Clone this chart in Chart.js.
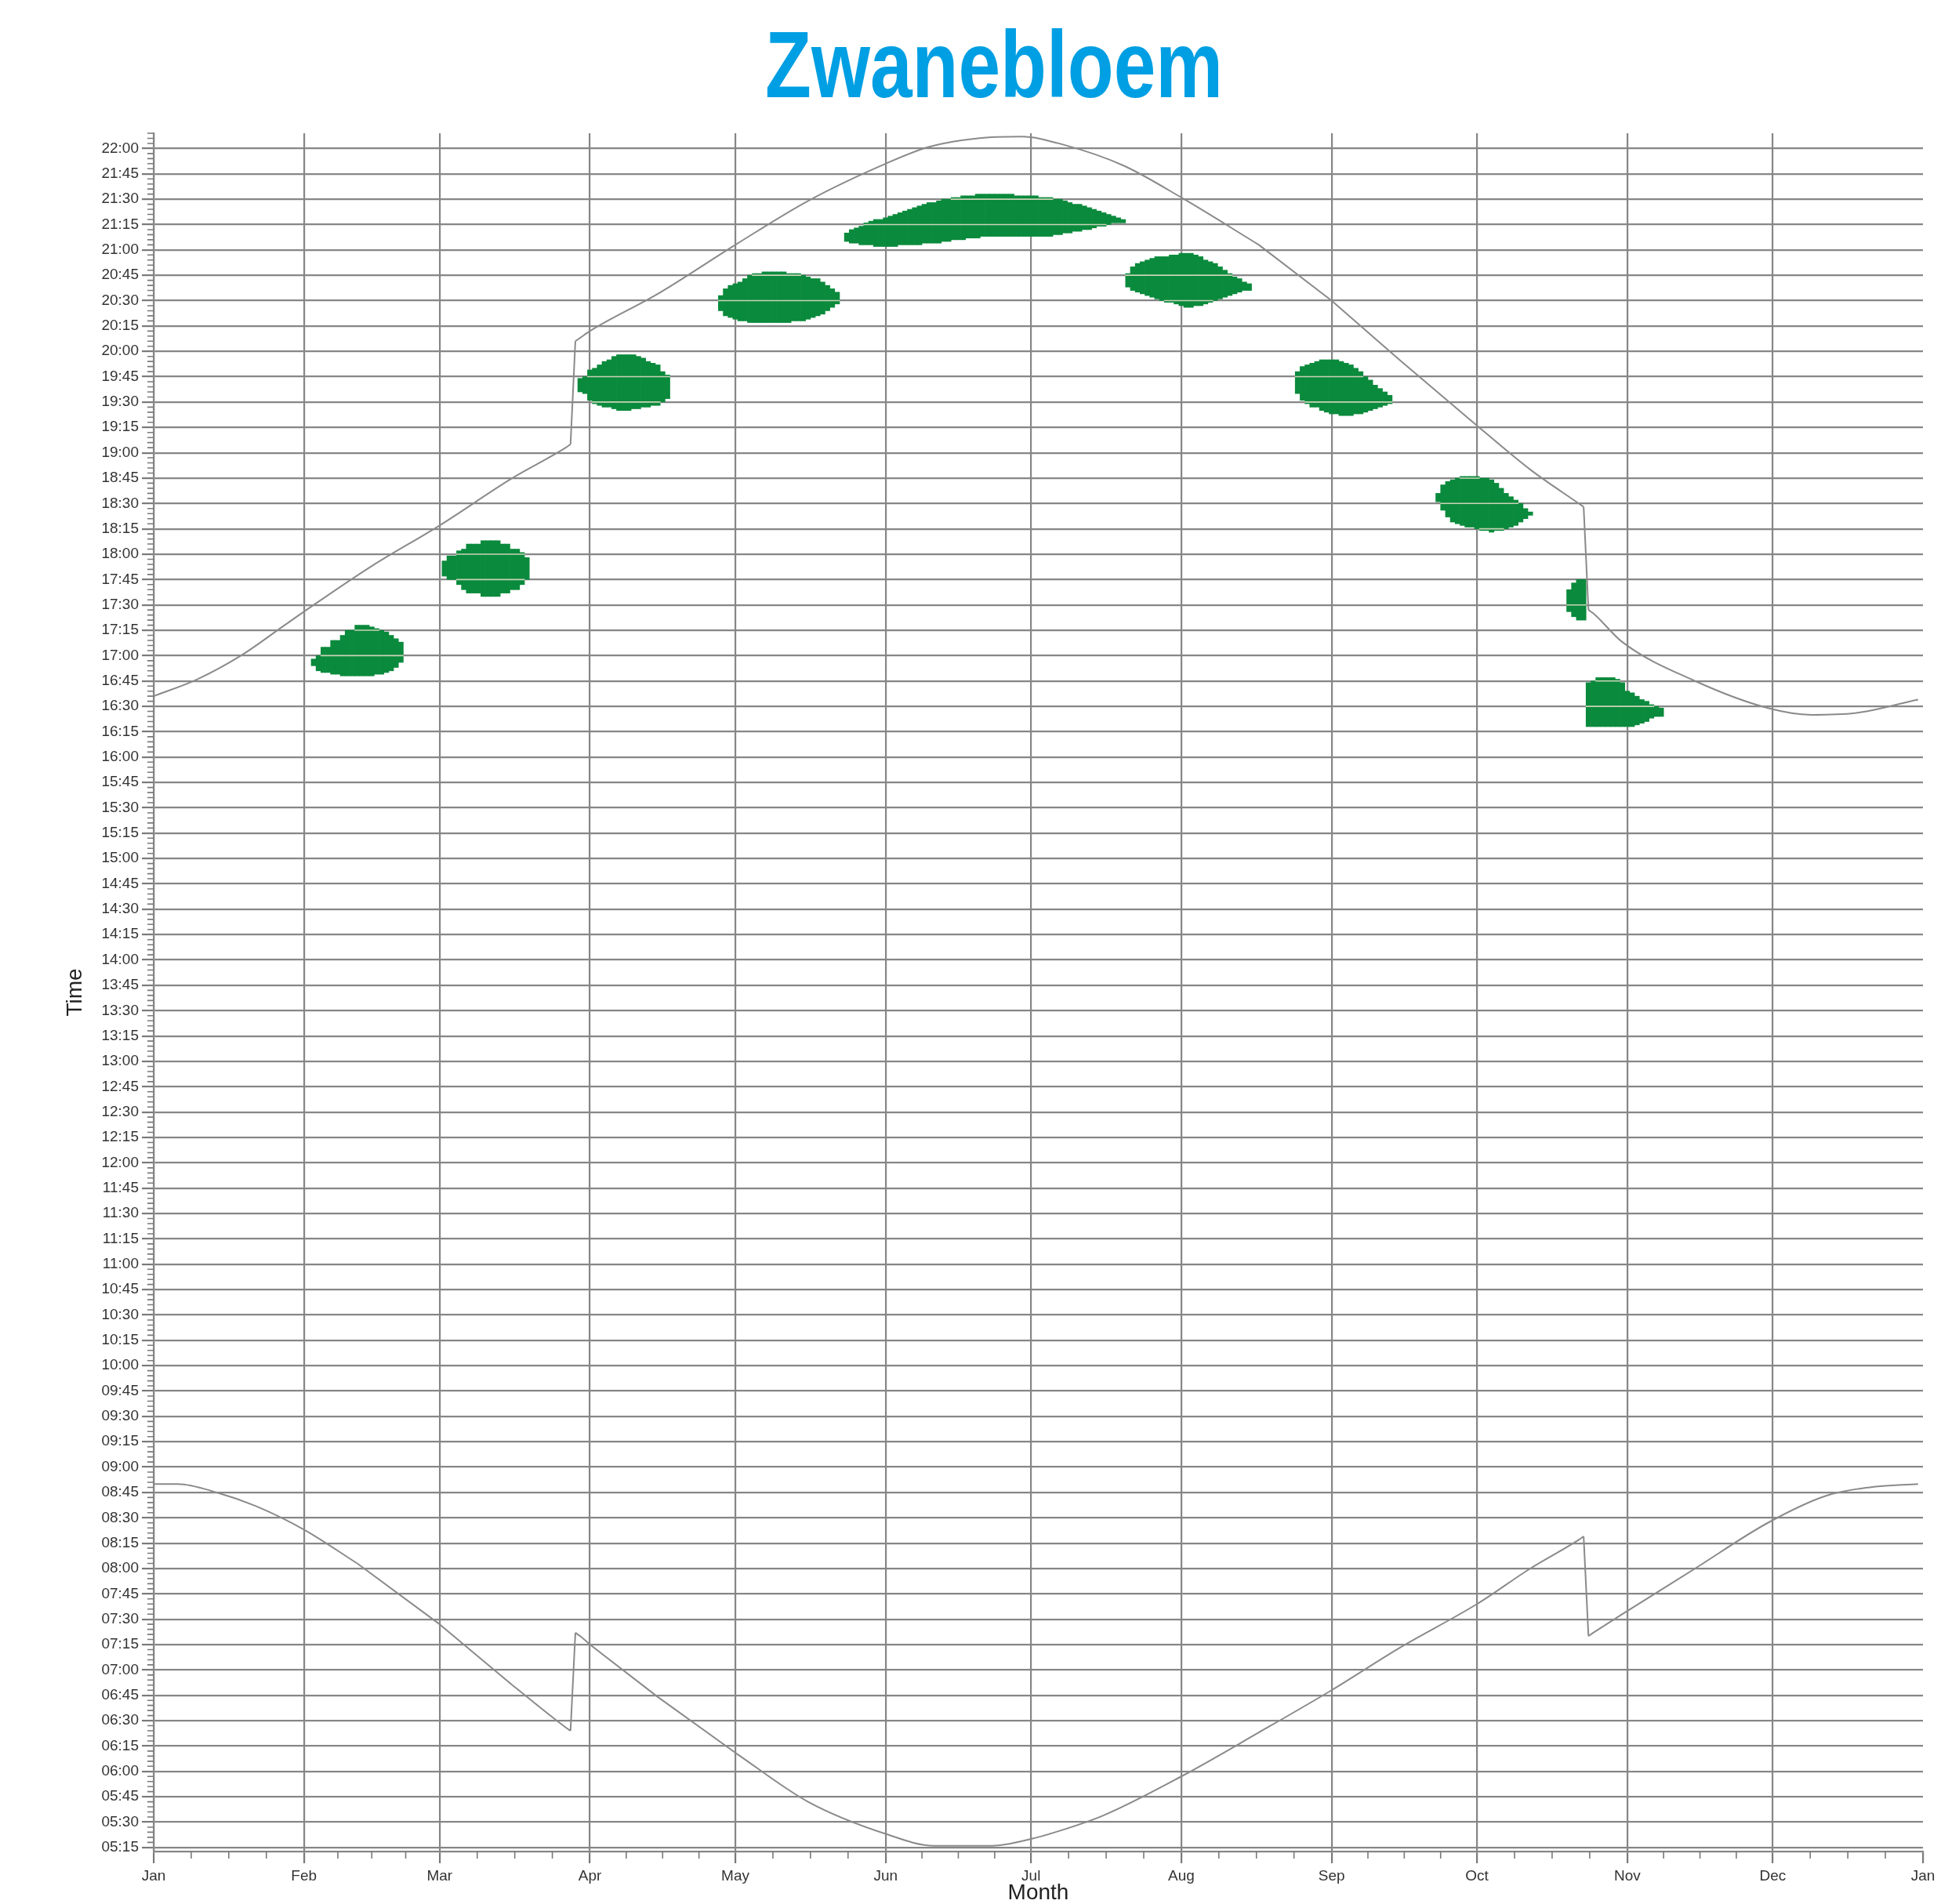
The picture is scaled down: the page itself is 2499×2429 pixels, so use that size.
<!DOCTYPE html>
<html>
<head>
<meta charset="utf-8">
<script src="https://cdn.jsdelivr.net/npm/chart.js@4.4.1/dist/chart.umd.min.js"></script>
<style>
html,body{margin:0;padding:0;background:#fff;}
#wrap{position:relative;width:2499px;height:2429px;overflow:hidden;}
#title{position:absolute;left:976px;top:22px;margin:0;font-weight:bold;font-size:120px;line-height:120px;
  font-family:'Liberation Sans',Arial,Helvetica,sans-serif;
  color:#009fe3;white-space:nowrap;transform-origin:0 0;}
canvas{position:absolute;left:0;top:0;}
</style>
</head>
<body>
<div id="wrap">
  <div id="title">Zwanebloem</div>
  <canvas id="c" width="2499" height="2429"></canvas>
</div>
<script>
// ---------- axis labels ----------
const monthLabels = ['Jan','Feb','Mar','Apr','May','Jun','Jul','Aug','Sep','Oct','Nov','Dec','Jan'];
const monthStartDays = [0,31,59,90,120,151,181,212,243,273,304,334,365];
const timeTickLabels = [
 '05:15','05:30','05:45','06:00','06:15','06:30','06:45','07:00','07:15','07:30','07:45',
 '08:00','08:15','08:30','08:45','09:00','09:15','09:30','09:45','10:00','10:15','10:30','10:45',
 '11:00','11:15','11:30','11:45','12:00','12:15','12:30','12:45','13:00','13:15','13:30','13:45',
 '14:00','14:15','14:30','14:45','15:00','15:15','15:30','15:45','16:00','16:15','16:30','16:45',
 '17:00','17:15','17:30','17:45','18:00','18:15','18:30','18:45','19:00','19:15','19:30','19:45',
 '20:00','20:15','20:30','20:45','21:00','21:15','21:30','21:45','22:00'
];

// ---------- sunset (upper grey line), minutes after midnight ----------
const sunsetDays  = [0, 9, 18, 27, 31, 45, 59, 74, 85, 86, 87, 88, 90, 104, 120, 135, 151, 160, 170, 179, 188, 200, 212, 228, 243, 257, 273, 284, 294, 295, 296, 297, 303, 318, 333, 342, 351, 364];
const sunsetTimes = [996, 1006, 1020, 1038, 1046, 1073, 1097, 1125, 1143, 1145, 1206, 1208, 1212, 1234, 1263, 1289, 1311, 1321, 1326, 1327, 1322, 1310, 1291, 1263, 1230, 1195, 1156, 1130, 1110, 1108, 1047, 1045, 1028, 1005, 989, 985, 986, 994];

// ---------- sunrise (lower grey line) ----------
const sunriseDays  = [0, 5, 13, 21, 31, 42, 59, 74, 85, 86, 87, 88, 90, 104, 120, 135, 151, 161, 166, 173, 181, 186, 196, 212, 228, 243, 257, 273, 284, 294, 295, 296, 297, 303, 318, 333, 345, 354, 364];
const sunriseTimes = [530, 530, 525, 517, 503, 483, 447, 411, 386, 384, 442, 440, 435, 404, 371, 342, 323, 316, 316, 316, 320, 324, 334, 357, 383, 408, 433, 459, 480, 497, 499, 440, 442, 453, 480, 507, 523, 528, 530];

// ---------- green flight blobs: day of year, lower / upper time (minutes) ----------
const flowerDays = [
  33,34,35,36,37,38,39,40,41,42,43,44,45,46,47,48,49,50,51,
  60,61,62,63,64,65,66,67,68,69,70,71,72,73,74,75,76,77,
  88,89,90,91,92,93,94,95,96,97,98,99,100,101,102,103,104,105,106,
  117,118,119,120,121,122,123,124,125,126,127,128,129,130,131,132,133,134,135,136,137,138,139,140,141,
  143,144,145,146,147,148,149,150,151,152,153,154,155,156,157,158,159,160,161,162,163,164,165,166,167,168,169,170,
  171,172,173,174,175,176,177,178,179,180,181,182,183,184,185,186,187,188,189,190,191,192,193,194,195,196,197,198,199,200,
  201,202,203,204,205,206,207,208,209,210,211,212,213,214,215,216,217,218,219,220,221,222,223,224,225,226,
  236,237,238,239,240,241,242,243,244,245,246,247,248,249,250,251,252,253,254,255,
  265,266,267,268,269,270,271,272,273,274,275,276,277,278,279,280,281,282,283,284,
  292,293,294,295,
  296,297,298,299,300,301,302,303,304,305,306,307,308,309,310,311
];
const flowerLow = [
  1014,1011,1010,1010,1009,1009,1008,1008,1008,1008,1008,1008,1008,1009,1009,1010,1011,1013,1016,
  1067,1065,1065,1062,1059,1057,1057,1057,1055,1055,1055,1055,1057,1057,1059,1059,1062,1065,
  1176,1175,1171,1169,1168,1167,1167,1166,1165,1165,1165,1166,1166,1167,1167,1168,1168,1170,1172,
  1224,1221,1220,1219,1218,1218,1217,1217,1217,1217,1217,1217,1217,1217,1217,1218,1218,1218,1219,1220,1221,1222,1224,1226,1228,
  1265,1264,1264,1263,1263,1263,1262,1262,1262,1262,1262,1263,1263,1263,1263,1263,1264,1264,1264,1264,1265,1265,1266,1266,1266,1267,1267,1267,
  1268,1268,1268,1268,1268,1268,1268,1268,1268,1268,1268,1268,1268,1268,1268,1269,1269,1270,1270,1271,1271,1272,1272,1273,1274,1274,1275,1276,1276,1276,
  1238,1236,1235,1234,1233,1232,1231,1230,1229,1229,1228,1227,1226,1226,1227,1227,1228,1229,1230,1231,1232,1233,1234,1235,1236,1236,
  1175,1171,1169,1167,1167,1165,1164,1163,1163,1162,1162,1162,1163,1163,1164,1165,1166,1167,1168,1169,
  1111,1106,1102,1099,1098,1097,1096,1096,1095,1094,1094,1093,1094,1094,1095,1096,1097,1099,1101,1103,
  1046,1043,1041,1041,
  978,978,978,978,978,978,978,978,978,978,979,980,981,983,984,984
];
const flowerHigh = [
  1018,1020,1025,1025,1029,1029,1032,1035,1035,1038,1038,1038,1037,1036,1035,1034,1032,1030,1028,
  1076,1079,1079,1082,1083,1086,1086,1086,1088,1088,1088,1088,1086,1086,1083,1083,1081,1078,
  1184,1185,1189,1190,1192,1194,1195,1197,1198,1198,1198,1198,1197,1196,1194,1193,1192,1188,1186,
  1233,1237,1239,1240,1241,1243,1245,1246,1246,1247,1247,1247,1247,1247,1246,1246,1246,1245,1244,1243,1243,1241,1239,1237,1235,
  1270,1272,1273,1274,1276,1277,1278,1278,1279,1280,1281,1282,1283,1284,1285,1286,1287,1288,1288,1289,1290,1290,1291,1291,1292,1292,1292,1293,
  1293,1293,1293,1293,1293,1293,1293,1292,1292,1292,1292,1292,1291,1291,1291,1290,1290,1289,1288,1287,1287,1286,1285,1284,1283,1282,1281,1280,1279,1278,
  1246,1250,1252,1253,1254,1255,1256,1256,1256,1257,1257,1258,1258,1258,1257,1256,1254,1253,1252,1250,1248,1246,1244,1243,1241,1240,
  1188,1191,1192,1193,1194,1195,1195,1195,1195,1194,1193,1192,1190,1188,1185,1183,1180,1178,1176,1174,
  1116,1121,1123,1124,1125,1126,1126,1126,1126,1125,1125,1124,1122,1119,1116,1114,1112,1110,1107,1105,
  1059,1063,1065,1065,
  1004,1005,1007,1007,1007,1007,1006,1004,999,998,996,994,993,991,990,989
];

// ---------- helpers built from the arrays ----------
const toMin = s => { const [h, m] = s.split(':').map(Number); return h * 60 + m; };
const timeTickValues = timeTickLabels.map(toMin);
const GRID = '#868686';
const Y_MIN = 312.6, Y_MAX = 1329;
const JUMP = 30; // a daylight-saving step between two consecutive readings

// smooth parts of a curve, broken at the clock changes
function smoothParts(days, times) {
  const out = [];
  days.forEach((d, i) => {
    if (i > 0 && Math.abs(times[i] - times[i - 1]) > JUMP) out.push({x: (d + days[i - 1]) / 2, y: null});
    out.push({x: d, y: times[i]});
  });
  return out;
}
// the clock-change steps themselves, as straight segments
function jumpParts(days, times) {
  const out = [];
  days.forEach((d, i) => {
    if (i > 0 && Math.abs(times[i] - times[i - 1]) > JUMP) {
      if (out.length) out.push({x: days[i - 1] - 0.5, y: null});
      out.push({x: days[i - 1], y: times[i - 1]}, {x: d, y: times[i]});
    }
  });
  return out;
}

// title: condensed to the width of the original
(function(){
  const t = document.getElementById('title');
  const w = t.getBoundingClientRect().width;
  t.style.transform = 'scaleX(' + (584 / w) + ')';
})();

const minorTicks = {
  id: 'minorTicks',
  afterDraw(chart) {
    const {ctx, chartArea} = chart;
    const x = chart.scales.x, y = chart.scales.y;
    ctx.save();
    ctx.strokeStyle = '#7a7a7a';
    ctx.lineWidth = 1.6;
    ctx.beginPath();
    for (let m = Math.ceil(Y_MIN / 3) * 3; m <= Y_MAX; m += 3) {
      if (m % 15 === 0) continue;
      const py = y.getPixelForValue(m);
      ctx.moveTo(chartArea.left - 8, py);
      ctx.lineTo(chartArea.left, py);
    }
    for (let i = 0; i < monthStartDays.length - 1; i++) {
      const len = monthStartDays[i + 1] - monthStartDays[i];
      for (let k = 1; k < 4; k++) {
        const px = x.getPixelForValue(monthStartDays[i] + len * k / 4);
        ctx.moveTo(px, chartArea.bottom);
        ctx.lineTo(px, chartArea.bottom + 9);
      }
    }
    ctx.stroke();
    ctx.restore();
  }
};

// grid lines show through the green blobs as light lines, as in the original print
const gridThroughBlobs = {
  id: 'gridThroughBlobs',
  afterDatasetsDraw(chart) {
    const meta = chart.getDatasetMeta(2);
    const y = chart.scales.y;
    const {ctx} = chart;
    ctx.save();
    ctx.strokeStyle = 'rgba(235,225,205,0.85)';
    ctx.lineWidth = 1.6;
    ctx.beginPath();
    meta.data.forEach((bar, i) => {
      const lo = flowerLow[i], hi = flowerHigh[i];
      const half = bar.width / 2 + 0.4;
      timeTickValues.forEach(v => {
        if (v > lo && v < hi) {
          const py = y.getPixelForValue(v);
          ctx.moveTo(bar.x - half, py);
          ctx.lineTo(bar.x + half, py);
        }
      });
    });
    ctx.stroke();
    ctx.restore();
  }
};

const lineStyle = {
  type: 'line', borderColor: '#8a8a8a', borderWidth: 2, pointRadius: 0,
  fill: false, spanGaps: false, order: 0
};

new Chart(document.getElementById('c'), {
  type: 'bar',
  data: {
    datasets: [
      Object.assign({label: 'Sunset', data: smoothParts(sunsetDays, sunsetTimes), cubicInterpolationMode: 'monotone'}, lineStyle),
      Object.assign({label: 'Sunrise', data: smoothParts(sunriseDays, sunriseTimes), cubicInterpolationMode: 'monotone'}, lineStyle),
      {
        type: 'bar', label: 'Zwanebloem',
        data: flowerDays.map((d, i) => ({x: d, y: [flowerLow[i], flowerHigh[i]]})),
        backgroundColor: '#0a8a3c', borderWidth: 0,
        barPercentage: 1, categoryPercentage: 1, order: 1
      },
      Object.assign({label: 'Sunset step', data: jumpParts(sunsetDays, sunsetTimes), tension: 0}, lineStyle),
      Object.assign({label: 'Sunrise step', data: jumpParts(sunriseDays, sunriseTimes), tension: 0}, lineStyle)
    ]
  },
  options: {
    responsive: false,
    animation: false,
    events: [],
    devicePixelRatio: 1,
    layout: {padding: {top: 170, right: 46, bottom: 0, left: 0}},
    plugins: {legend: {display: false}, tooltip: {enabled: false}, title: {display: false}},
    scales: {
      x: {
        type: 'linear', min: 0, max: 365, offset: false,
        afterBuildTicks: s => { s.ticks = monthStartDays.map(v => ({value: v})); },
        afterFit: s => { s.height = 67; },
        ticks: {
          autoSkip: false, maxRotation: 0, padding: 5, color: '#333',
          font: {size: 19, family: "'Liberation Sans', Arial, sans-serif"},
          callback: (v, i) => monthLabels[i]
        },
        grid: {
          color: ctx => (ctx.index === monthStartDays.length - 1 ? 'rgba(0,0,0,0)' : GRID),
          tickColor: '#7a7a7a', lineWidth: 2.2, tickLength: 15, offset: false
        },
        border: {display: true, color: GRID, width: 2.2},
        title: {
          display: true, text: 'Month', color: '#222',
          font: {size: 28, family: "'Liberation Sans', Arial, sans-serif", lineHeight: 1},
          padding: {top: 0, bottom: 0}
        }
      },
      y: {
        type: 'linear', min: Y_MIN, max: Y_MAX,
        afterBuildTicks: s => { s.ticks = timeTickValues.map(v => ({value: v})); },
        afterFit: s => { s.width = 196; },
        ticks: {
          autoSkip: false, padding: 4, color: '#333',
          font: {size: 19, family: "'Liberation Sans', Arial, sans-serif"},
          callback: (v, i) => timeTickLabels[i]
        },
        grid: {color: GRID, tickColor: '#7a7a7a', lineWidth: 2.2, tickLength: 15},
        border: {display: true, color: GRID, width: 2.2},
        title: {
          display: true, text: 'Time', color: '#222',
          font: {size: 28, family: "'Liberation Sans', Arial, sans-serif", lineHeight: 1.2},
          padding: {top: 79, bottom: 0}
        }
      }
    }
  },
  plugins: [minorTicks, gridThroughBlobs]
});
</script>
</body>
</html>
